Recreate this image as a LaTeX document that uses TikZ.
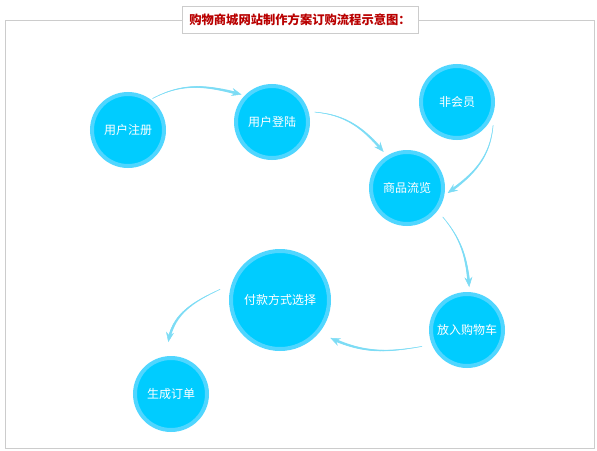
\documentclass[tikz,border=0pt]{standalone}
\usepackage{fontspec}
\newfontfamily\cjk{Noto Sans CJK SC}
\usetikzlibrary{arrows.meta,calc,decorations.markings}
\definecolor{ringc}{RGB}{80,214,255}
\definecolor{fillc}{RGB}{0,204,255}
\definecolor{arrc}{RGB}{125,220,245}
\definecolor{framec}{RGB}{204,204,204}
\definecolor{titlec}{RGB}{185,0,0}
\tikzset{
  stepnode/.style={circle, draw=ringc, fill=fillc, line width=4pt, minimum size=72pt, inner sep=0pt,
    text=white, font=\cjk\fontsize{12pt}{14pt}\selectfont},
  bignode/.style={stepnode, minimum size=98pt},
  flow/.style={draw=arrc, line width=0.5pt, line cap=round,
    -{Stealth[length=10pt,width=8pt,inset=3.5pt]},
    postaction={decorate, decoration={markings,
      mark=between positions 0 and 0.94 step 0.6pt with {%
        \pgfmathsetmacro\rr{0.25+1.25*\pgfkeysvalueof{/pgf/decoration/mark info/distance from start}/\pgfdecoratedpathlength}%
        \fill[arrc] (0,0) circle (\rr pt);}}}},
  framebox/.style={draw=framec, line width=1pt},
  titlebox/.style={draw=framec, line width=1pt, fill=white}
}
\begin{document}
\begin{tikzpicture}[x=1pt,y=1pt]
\useasboundingbox (0,0) rectangle (597,-450);
\draw[framebox] (5,-20) rectangle (594,-448);
\node[titlebox, minimum width=236pt, minimum height=27pt, inner sep=0pt] (titleframe) at (300,-19.5) {};
\node[text=titlec, font=\cjk\bfseries\fontsize{12.3pt}{14pt}\selectfont] (title) at (titleframe.center) {购物商城网站制作方案订购流程示意图：};

\node[stepnode] (reg) at (128,-130) {用户注册};
\node[stepnode] (login) at (272,-122) {用户登陆};
\node[stepnode] (non) at (457,-102) {非会员};
\node[stepnode] (browse) at (407,-188) {商品流览};
\node[stepnode] (cart) at (467,-330) {放入购物车};
\node[bignode] (pay) at (280,-300) {付款方式选择};
\node[stepnode] (order) at (171,-394) {生成订单};

\draw[flow] ($(reg.center)+(52:40)$) to[out=28,in=165] ($(login.center)+(138:41)$);
\draw[flow] ($(login.center)+(13:44)$) to[out=-5,in=130] ($(browse.center)+(123:43)$);
\draw[flow] ($(non.center)+(-33:43)$) to[out=-95,in=35] ($(browse.center)+(-7:41)$);
\draw[flow] ($(browse.center)+(-39:46)$) to[out=-50,in=95] ($(cart.center)+(87:43)$);
\draw[flow] ($(cart.center)+(200:48)$) to[out=-170,in=-25] ($(pay.center)+(-37:63)$);
\draw[flow] ($(pay.center)+(170:61)$) to[out=-155,in=80] ($(order.center)+(93:52)$);
\end{tikzpicture}
\end{document}
